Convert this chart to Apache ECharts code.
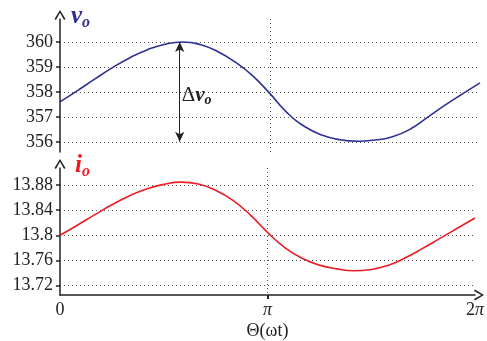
<!DOCTYPE html>
<html>
<head>
<meta charset="utf-8">
<title></title>
<script src="https://cdn.jsdelivr.net/npm/echarts@6/dist/echarts.min.js" type="text/javascript" charset="utf-8"></script>
</head>
<body style="margin:0">
<div id="mainChart" style="width:487px;height:341px;"></div>
<script type="text/javascript">
// sample index, one point every pi/12 from 0 to 2pi
var steps = [0, 1, 2, 3, 4, 5, 6, 7, 8, 9, 10, 11, 12, 13, 14, 15, 16, 17, 18, 19, 20, 21, 22, 23, 24];
// output voltage v_o
var voValues = [357.6, 358.05, 358.52, 358.97, 359.37, 359.69, 359.91, 360.0, 359.9, 359.62, 359.2, 358.65,
	357.93, 357.15, 356.6, 356.26, 356.08, 356.02, 356.07, 356.2, 356.5, 356.98, 357.47, 357.92, 358.36];
// output current i_o
var ioValues = [13.8, 13.816, 13.8325, 13.8485, 13.8625, 13.8735, 13.881, 13.8845, 13.8815, 13.8715, 13.8555, 13.8325,
	13.8045, 13.7805, 13.7635, 13.7525, 13.7465, 13.7435, 13.7455, 13.7525, 13.7645, 13.7795, 13.7955, 13.8115, 13.8275];
var voTicks = [356, 357, 358, 359, 360];
var ioTicks = [13.72, 13.76, 13.8, 13.84, 13.88];
var xTicks = [0, Math.PI, 2 * Math.PI];
var xTickLabels = ['{n|0}', '{p|π}', '{n|2}{p|π}'];
var deltaAt = 0.57 * Math.PI; // where the delta v_o arrow sits

var serif = 'Liberation Serif';
var ink = '#222';
var blue = '#2e3192';
var red = '#ed1c24';
var chevron = 'path://M0,10 L6,0 L12,10 L10.5,11 L6,3 L1.5,11 Z';

function pairs(vals) {
	var out = [];
	for (var i = 0; i < steps.length; i++) {
		out.push([steps[i] * Math.PI / 12, vals[i]]);
	}
	return out;
}

var dotted = { color: '#555', width: 1, type: [1, 3] };

function yAxisOf(idx, ticks, min, max) {
	return {
		type: 'value', gridIndex: idx, min: min, max: max,
		axisLine: { show: true, lineStyle: { color: ink, width: 1.5 }, symbol: ['none', chevron], symbolSize: [11, 10], symbolOffset: [0, 4] },
		axisTick: { show: true, length: 4, lineStyle: { color: ink, width: 1.5 }, customValues: ticks },
		axisLabel: { customValues: ticks, margin: 7, fontFamily: serif, fontSize: 18, color: ink },
		splitLine: { show: true, lineStyle: dotted }
	};
}

var myChart = echarts.init(document.getElementById('mainChart'));
var option = {
	animation: false,
	backgroundColor: '#fff',
	title: [{
		text: '{v|v}{s|o}', left: 66, top: -2,
		textStyle: { rich: {
			v: { fontFamily: serif, fontStyle: 'italic', fontWeight: 'bold', fontSize: 25, color: blue },
			s: { fontFamily: serif, fontStyle: 'italic', fontWeight: 'bold', fontSize: 16, color: blue, padding: [12, 0, 0, 0] }
		} }
	}, {
		text: '{v|i}{s|o}', left: 70, top: 147,
		textStyle: { rich: {
			v: { fontFamily: serif, fontStyle: 'italic', fontWeight: 'bold', fontSize: 25, color: red },
			s: { fontFamily: serif, fontStyle: 'italic', fontWeight: 'bold', fontSize: 16, color: red, padding: [12, 0, 0, 0] }
		} }
	}],
	grid: [
		{ left: 60, right: 7, top: 19, height: 133 },
		{ left: 60, right: 7, top: 168, height: 131 }
	],
	xAxis: [{
		type: 'value', gridIndex: 0, min: 0, max: 2 * Math.PI,
		axisLine: { show: false }, axisTick: { show: false, customValues: [Math.PI] },
		axisLabel: { show: false }, splitLine: { show: true, lineStyle: dotted }
	}, {
		type: 'value', gridIndex: 1, min: 0, max: 2 * Math.PI,
		name: 'Θ(ωt)', nameLocation: 'middle', nameGap: 27,
		nameTextStyle: { fontFamily: serif, fontSize: 18, color: ink },
		axisLine: { show: true, lineStyle: { color: ink, width: 1.5 }, symbol: ['none', chevron], symbolSize: [11, 10], symbolOffset: [0, 4] },
		axisTick: { show: true, length: 4, lineStyle: { color: ink, width: 2 }, customValues: [Math.PI] },
		axisLabel: {
			customValues: xTicks, margin: 6,
			rich: {
				n: { fontFamily: serif, fontSize: 18, color: ink },
				p: { fontFamily: serif, fontSize: 18, color: ink, fontStyle: 'italic' }
			},
			formatter: function (val) {
				for (var i = 0; i < xTicks.length; i++) {
					if (Math.abs(val - xTicks[i]) < 1e-6) return xTickLabels[i];
				}
				return '';
			}
		},
		splitLine: { show: true, lineStyle: dotted }
	}],
	yAxis: [
		yAxisOf(0, voTicks, 355.59, 360.92),
		yAxisOf(1, ioTicks, 13.705, 13.907)
	],
	series: [{
		type: 'line', xAxisIndex: 0, yAxisIndex: 0, data: pairs(voValues),
		smooth: true, showSymbol: false, lineStyle: { color: blue, width: 1.6 }, itemStyle: { color: blue },
		markLine: {
			silent: true, symbol: ['arrow', 'arrow'], symbolSize: [7, 10],
			lineStyle: { color: ink, width: 1, type: 'solid' }, label: { show: false },
			data: [[{ coord: [deltaAt, voTicks[voTicks.length - 1]] }, { coord: [deltaAt, voTicks[0]] }]]
		},
		markPoint: {
			silent: true, symbol: 'circle', symbolSize: 0,
			label: {
				show: true, position: 'right', distance: 2, offset: [0, 4], formatter: '{d|Δ}{v|v}{s|o}',
				rich: {
					d: { fontFamily: serif, fontSize: 21, color: ink },
					v: { fontFamily: serif, fontStyle: 'italic', fontWeight: 'bold', fontSize: 21, color: ink },
					s: { fontFamily: serif, fontStyle: 'italic', fontWeight: 'bold', fontSize: 14, color: ink, padding: [9, 0, 0, 0] }
				}
			},
			data: [{ coord: [deltaAt, 358] }]
		}
	}, {
		type: 'line', xAxisIndex: 1, yAxisIndex: 1, data: pairs(ioValues),
		smooth: true, showSymbol: false, lineStyle: { color: red, width: 1.6 }, itemStyle: { color: red }
	}]
};
myChart.setOption(option, true);
</script>
</body>
</html>
